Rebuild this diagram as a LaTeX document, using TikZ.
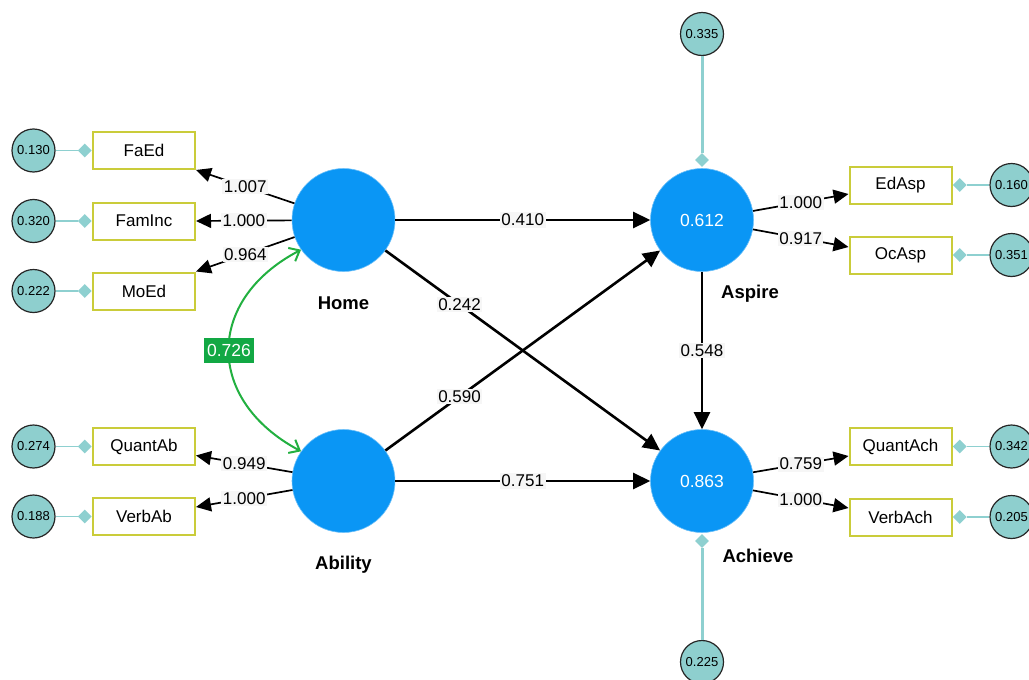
\documentclass[tikz,border=0pt]{standalone}
\usepackage{fontspec}
\setmainfont{Liberation Sans}
\usetikzlibrary{shapes.geometric,arrows.meta,calc}
\definecolor{blueC}{HTML}{0A96F5}
\definecolor{tealF}{HTML}{8ECFCE}
\definecolor{tealL}{HTML}{8ED0D0}
\definecolor{boxC}{HTML}{CACC3A}
\definecolor{greenC}{HTML}{22B040}
\definecolor{greenF}{HTML}{12A844}
\definecolor{lblBG}{HTML}{F6F6F6}
\newcommand{\fsz}[1]{\fontsize{#1}{#1}\selectfont}
\tikzset{
  latent/.style={circle,fill=blueC,draw=blueC!60!white,line width=0.6pt,minimum size=103pt,inner sep=0pt,text=white,font=\fsz{17.5}},
  obs/.style={rectangle,draw=boxC,line width=2pt,fill=white,minimum width=102pt,minimum height=37pt,inner sep=0pt,font=\fsz{17}},
  err/.style={circle,fill=tealF,draw=black!85,line width=1.2pt,minimum size=43pt,inner sep=0pt,font=\fsz{13}},
  dia/.style={diamond,fill=tealL,draw=none,minimum size=14pt,inner sep=0pt},
  errline/.style={draw=tealL,line width=1.8pt},
  errlineB/.style={draw=tealL,line width=3pt},
  load/.style={draw=black,line width=1.7pt,-{Triangle[length=15pt,width=14pt]}},
  struct/.style={draw=black,line width=2.6pt,-{Triangle[length=17pt,width=16pt]}},
  lbl/.style={fill=lblBG,inner sep=1.5pt,text=black,font=\fsz{17}},
  lname/.style={font=\fsz{18.5}\bfseries},
  cov/.style={draw=greenC,line width=2pt,{Straight Barb[length=9pt,width=15pt]}-{Straight Barb[length=9pt,width=15pt]}},
  covlbl/.style={fill=greenF,text=white,inner xsep=3pt,inner ysep=0pt,minimum height=25pt,font=\fsz{17.5}}
}
\begin{document}
\begin{tikzpicture}[x=1pt,y=-1pt]
\clip (0,0) rectangle (1029,680);
\fill[white] (0,0) rectangle (1029,680);
% latent
\node[latent] (home) at (343.5,220) {};
\node[latent] (ability) at (343.5,481) {};
\node[latent] (aspire) at (702,220) {0.612};
\node[latent] (achieve) at (702,481) {0.863};
\node[lname] (homeN) at (343.5,303) {Home};
\node[lname] (abilityN) at (343.5,565) {Ability};
\node[lname] (aspireN) at (750,294) {Aspire};
\node[lname] (achieveN) at (758,556) {Achieve};
% observed left
\node[obs] (faed) at (144,150.5) {FaEd};
\node[obs] (faminc) at (144,221) {FamInc};
\node[obs] (moed) at (144,291) {MoEd};
\node[obs] (quantab) at (144,446.5) {QuantAb};
\node[obs] (verbab) at (144,516.5) {VerbAb};
% observed right
\node[obs] (edasp) at (900.5,185) {EdAsp};
\node[obs] (ocasp) at (900.5,255) {OcAsp};
\node[obs] (quantach) at (900.5,446.5) {QuantAch};
\node[obs] (verbach) at (900.5,517) {VerbAch};
% error circles
\node[err] (e1) at (33.5,150.5) {0.130};
\node[err] (e2) at (33.5,221) {0.320};
\node[err] (e3) at (33.5,291) {0.222};
\node[err] (e4) at (33.5,446.5) {0.274};
\node[err] (e5) at (33.5,516.5) {0.188};
\node[err] (e6) at (1011.5,185) {0.160};
\node[err] (e7) at (1011.5,255) {0.351};
\node[err] (e8) at (1011.5,446.5) {0.342};
\node[err] (e9) at (1011.5,517) {0.205};
\node[err] (e10) at (702,34) {0.335};
\node[err] (e11) at (702,662) {0.225};
% diamonds
\node[dia,anchor=east] (d1) at (faed.west) {};
\node[dia,anchor=east] (d2) at (faminc.west) {};
\node[dia,anchor=east] (d3) at (moed.west) {};
\node[dia,anchor=east] (d4) at (quantab.west) {};
\node[dia,anchor=east] (d5) at (verbab.west) {};
\node[dia,anchor=west] (d6) at (edasp.east) {};
\node[dia,anchor=west] (d7) at (ocasp.east) {};
\node[dia,anchor=west] (d8) at (quantach.east) {};
\node[dia,anchor=west] (d9) at (verbach.east) {};
\node[dia,anchor=south] (d10) at ([yshift=1pt]aspire.north) {};
\node[dia,anchor=north] (d11) at ([yshift=-1pt]achieve.south) {};
% error lines
\draw[errline] (e1) -- (d1);
\draw[errline] (e2) -- (d2);
\draw[errline] (e3) -- (d3);
\draw[errline] (e4) -- (d4);
\draw[errline] (e5) -- (d5);
\draw[errline] (e6) -- (d6);
\draw[errline] (e7) -- (d7);
\draw[errline] (e8) -- (d8);
\draw[errline] (e9) -- (d9);
\draw[errlineB] (e10) -- (d10);
\draw[errlineB] (e11) -- (d11);
% loadings
\draw[load] (home) -- node[lbl]{1.007} (faed.south east);
\draw[load] (home) -- node[lbl]{1.000} (faminc.east);
\draw[load] (home) -- node[lbl]{0.964} (moed.north east);
\draw[load] (ability) -- node[lbl]{0.949} ([yshift=-9pt]quantab.east);
\draw[load] (ability) -- node[lbl]{1.000} ([yshift=9.5pt]verbab.east);
\draw[load] (aspire) -- node[lbl]{1.000} ([yshift=-9pt]edasp.east -| edasp.west);
\draw[load] (aspire) -- node[lbl]{0.917} ([yshift=8pt]ocasp.east -| ocasp.west);
\draw[load] (achieve) -- node[lbl]{0.759} ([yshift=-9.5pt]quantach.east -| quantach.west);
\draw[load] (achieve) -- node[lbl]{1.000} ([yshift=9pt]verbach.east -| verbach.west);
% structural
\draw[struct] (home) -- node[lbl]{0.410} (aspire);
\draw[struct] (ability) -- node[lbl]{0.751} (achieve);
\draw[struct] (home) -- node[lbl,pos=0.27]{0.242} (achieve);
\draw[struct] (ability) -- node[lbl,pos=0.27]{0.590} (aspire);
\draw[struct] (aspire) -- node[lbl]{0.548} (achieve);
% covariance
\draw[cov] (home.215) .. controls (205,300) and (205,400) .. node[covlbl]{0.726} (ability.145);
\end{tikzpicture}
\end{document}
